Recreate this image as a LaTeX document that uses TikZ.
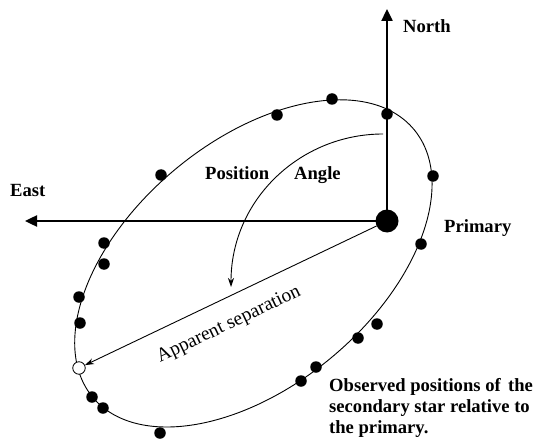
\documentclass[tikz,border=0pt]{standalone}
\usepackage{fontspec}
\setmainfont{Liberation Serif}
\usetikzlibrary{arrows.meta}
\begin{document}
\begin{tikzpicture}[x=1pt,y=-1pt,
  lbl/.style={font=\fontsize{18.6}{21}\selectfont\bfseries, inner sep=0pt, anchor=base west},
  sepfont/.style={font=\fontsize{19.4}{22}\selectfont, inner sep=0pt},
  dot/.style={circle, fill=black, inner sep=0pt, minimum size=11.5pt},
  axisarrow/.style={line width=2.4pt, -{Triangle[length=12pt,width=11pt]}},
  thinline/.style={line width=0.9pt}]
\useasboundingbox (0,0) rectangle (534,438);
% orbit
\coordinate (oc) at (253.4,263.4);
\draw[thinline, rotate around={39.84:(oc)}] (oc) ellipse [x radius=209.1, y radius=122.3];
% primary and axes
\node[circle, fill=black, inner sep=0pt, minimum size=23pt] (prim) at (387,221) {};
\coordinate (ntip) at (387,9);
\coordinate (etip) at (25,221);
\draw[axisarrow] (prim.center) -- (ntip);
\draw[axisarrow] (prim.center) -- (etip);
% observed positions
\foreach \i/\p in {1/{(161,175)},2/{(277,115)},3/{(332,99)},4/{(387,114)},5/{(433,176)},
  6/{(421,244)},7/{(377,324)},8/{(358,338)},9/{(316,367)},10/{(301,381)},11/{(160,433)},
  12/{(103,408)},13/{(92,397)},14/{(80,323)},15/{(79,297)},16/{(104,264)},17/{(104,243)}}
  \node[dot] (d\i) at \p {};
\node[circle, draw=black, fill=white, inner sep=0pt, minimum size=12.5pt, line width=0.8pt] (sec) at (79,368) {};
% apparent separation
\draw[thinline, -{Stealth[length=9pt,width=6pt]}] (prim) -- (sec);
\node[sepfont, rotate=25.6] (apsep) at (229,325) {Apparent separation};
% position angle
\coordinate (pa0) at (383,134);
\coordinate (pa1) at (231,287);
\draw[thinline, -{Stealth[length=9pt,width=6pt]}] (pa0) .. controls (300,134) and (231,200) .. (pa1);
% labels
\node[lbl] (north) at (403,33) {North};
\node[lbl] (east) at (10,196) {East};
\node[lbl] (posl) at (205,179) {Position};
\node[lbl] (angl) at (294,179) {Angle};
\node[lbl] (primlbl) at (444,232) {Primary};
\node[lbl] (obs1) at (329,391) {Observed positions of\hspace{0.4em}the};
\node[lbl] (obs2) at (329,412) {secondary star relative to};
\node[lbl] (obs3) at (329,433) {the primary.};
\end{tikzpicture}
\end{document}
